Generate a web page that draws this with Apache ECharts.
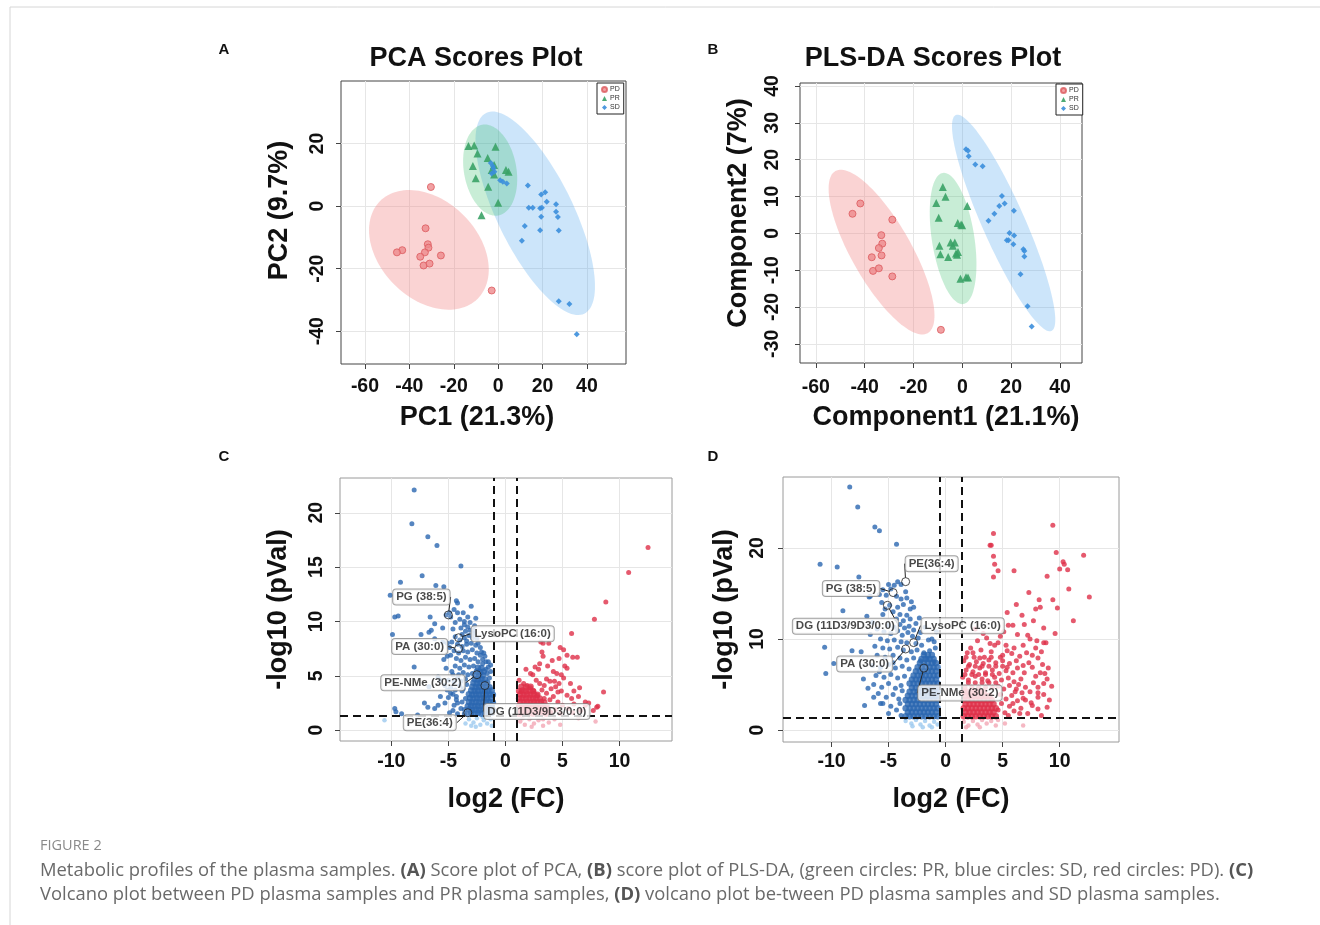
<!DOCTYPE html>
<html><head><meta charset="utf-8">
<script src="https://cdn.jsdelivr.net/npm/echarts@6/dist/echarts.min.js"></script>
<style>html,body{margin:0;padding:0;background:#fff}#c{width:1320px;height:925px}</style>
</head><body><div id="c"></div>
<script>
// ---------------- Panel A: PCA scores ----------------
const pcaPD = [[-30.3,6.1],[-32.7,-7.1],[-31.7,-12.2],[-31.4,-13.3],[-33.0,-14.8],[-35.1,-16.2],[-25.8,-15.8],[-43.2,-14.1],[-45.6,-14.8],[-33.6,-19.0],[-30.9,-18.4],[-2.9,-27.0]];
const pcaPR = [[-13.4,19.2],[-10.8,19.4],[-1.2,19.0],[-9.3,16.8],[-4.7,15.4],[-11.4,12.8],[-1.8,13.1],[3.5,11.5],[4.7,11.0],[-2.9,11.5],[-10.1,8.9],[-4.5,6.2],[0.0,1.1],[-7.5,-2.9],[-1.8,10.1]];
const pcaSD = [[-3.3,13.8],[-2.4,12.8],[-2.1,12.0],[-2.9,10.4],[-1.7,11.0],[0.9,8.3],[2.1,7.8],[3.9,7.2],[13.4,6.6],[19.4,3.7],[21.2,4.4],[21.9,1.4],[26.1,0.6],[13.8,-0.5],[15.6,-0.5],[18.9,-0.7],[19.7,-0.5],[26.1,-1.8],[26.9,-3.5],[19.4,-3.4],[12.0,-6.4],[18.9,-7.7],[27.3,-7.8],[10.7,-11.1],[27.3,-30.4],[32.1,-31.3],[35.4,-41.0]];
// ellipse rows: centre x, centre y, major-axis tip x, major-axis tip y, minor/major ratio  (order: PD, SD, PR)
const pcaEllipses = [[-31.2,-14,-9.2,-29.6,0.71],[16.7,-2.3,-5.4,29.8,0.34],[-3.6,11.5,-7.2,26,0.57]];
const pcaXTicks = [-60,-40,-20,0,20,40];
const pcaYTicks = [-40,-20,0,20];

// ---------------- Panel B: PLS-DA scores ----------------
const plsPD = [[-45.0,5.3],[-41.8,8.1],[-28.7,3.7],[-33.2,-0.5],[-32.8,-2.8],[-34.2,-4.0],[-37.1,-6.5],[-33.1,-6.0],[-36.6,-10.2],[-34.2,-9.5],[-28.7,-11.7],[-8.8,-26.2]];
const plsPR = [[-8.0,12.6],[-6.9,9.9],[-10.7,8.2],[2.0,7.4],[-9.7,4.2],[-1.9,2.8],[-0.5,2.4],[-0.1,2.2],[-4.8,-2.5],[-3.1,-2.5],[-3.9,-3.4],[-9.4,-3.4],[-9.0,-5.7],[-5.8,-6.4],[-2.6,-5.5],[-1.8,-5.1],[-2.2,-5.8],[-0.8,-12.3],[1.5,-11.9],[2.3,-12.0]];
const plsSD = [[1.5,22.8],[2.3,22.4],[2.6,20.9],[5.3,18.7],[8.3,18.2],[16.2,10.1],[15.1,7.4],[17.3,8.1],[13.1,5.3],[21.1,6.1],[10.7,3.4],[19.3,0.1],[21.2,-0.6],[18.2,-1.9],[18.9,-1.9],[20.9,-3.0],[25.0,-4.3],[25.4,-4.8],[25.4,-6.3],[23.8,-11.1],[26.7,-19.8],[28.4,-25.3]];
const plsEllipses = [[-33.1,-5.1,-52,16.9,0.32],[16.9,2.8,-2.7,32.1,0.18],[-3.8,-1.4,-8.0,16.4,0.32]];
const plsXTicks = [-60,-40,-20,0,20,40];
const plsYTicks = [-30,-20,-10,0,10,20,30,40];

// ---------------- Panel C: volcano PD vs PR ----------------
const volCBlueCore = [
[-3.3,1.5],[-3.0,1.6],[-2.7,1.5],[-2.4,1.6],[-2.1,1.5],[-1.8,1.6],[-1.5,1.5],[-1.2,1.6],
[-3.2,1.9],[-2.9,1.85],[-2.6,1.9],[-2.3,1.85],[-2.0,1.9],[-1.7,1.85],[-1.4,1.9],[-1.1,1.85],
[-3.3,2.2],[-3.0,2.25],[-2.7,2.2],[-2.4,2.25],[-2.1,2.2],[-1.8,2.25],[-1.5,2.2],[-1.2,2.25],
[-3.2,2.6],[-2.9,2.55],[-2.6,2.6],[-2.3,2.55],[-2.0,2.6],[-1.7,2.55],[-1.4,2.6],[-1.1,2.55],
[-3.1,2.95],[-2.8,2.9],[-2.5,2.95],[-2.2,2.9],[-1.9,2.95],[-1.6,2.9],[-1.3,2.95],
[-3.2,3.3],[-2.9,3.25],[-2.6,3.3],[-2.3,3.25],[-2.0,3.3],[-1.7,3.25],[-1.4,3.3],[-1.1,3.25],
[-3.0,3.65],[-2.7,3.6],[-2.4,3.65],[-2.1,3.6],[-1.8,3.65],[-1.5,3.6],[-1.2,3.65],
[-2.9,4.0],[-2.6,3.95],[-2.3,4.0],[-2.0,3.95],[-1.7,4.0],[-1.4,3.95],
[-2.8,4.35],[-2.5,4.3],[-2.2,4.35],[-1.9,4.3],[-1.6,4.35],
[-2.7,4.7],[-2.4,4.65],[-2.1,4.7],[-1.8,4.65],
[-2.6,5.05],[-2.3,5.0],[-2.0,5.05],[-2.5,5.4],[-2.2,5.35],[-1.9,5.4],[-2.4,5.75],[-2.1,5.7]];
const volCBlue = [
[-8.0,22.1],[-8.2,19.0],[-6.8,17.8],[-6.0,17.0],[-3.9,15.1],[-7.3,14.2],[-9.2,13.6],[-6.1,13.3],[-5.4,13.2],[-10.1,12.4],
[-4.3,11.9],[-4.2,11.7],[-4.5,11.1],[-4.9,10.8],[-5.2,10.6],[-4.8,10.4],[-4.2,10.8],[-3.0,11.4],[-9.7,10.4],[-9.4,10.5],
[-6.6,10.4],[-6.2,9.8],[-5.5,9.4],[-6.5,9.2],[-9.9,8.8],[-7.4,8.8],[-6.7,9.0],
[-3.9,9.4],[-3.6,9.7],[-3.3,9.5],[-3.5,9.1],[-3.1,9.2],[-3.8,8.8],[-4.0,10.2],[-3.6,10.0],[-3.3,10.4],[-4.4,9.9],[-2.7,9.6],[-4.6,9.3],[-2.8,9.2],
[-5.5,8.1],[-5.1,8.0],[-6.2,8.4],
[-8.0,5.8],[-5.7,3.1],[-5.9,2.3],[-7.1,2.5],[-6.8,2.1],[-6.2,2.0],[-9.7,2.0],[-9.6,1.7],[-9.1,1.5],[-7.7,1.4],
[-5.2,5.7],[-4.6,5.1],[-5.4,6.5],[-5.1,6.8],[-4.8,6.9],[-5.9,4.9],[-5.7,4.6],[-6.7,4.0],[-5.1,3.7],[-4.8,3.4],[-4.3,3.1],[-4.2,2.5],[-3.9,2.0],[-4.6,1.8],
[-1.9,7.1],[-2.0,6.5],[-1.5,5.8],[-1.6,5.2],
[-4.4,8.6],[-4.0,8.3],[-3.6,8.5],[-3.2,8.7],[-2.8,8.9],[-2.5,8.4],[-4.2,7.9],[-3.8,7.7],[-3.4,7.9],[-3.0,8.0],[-2.6,7.8],[-2.2,7.6],
[-4.5,7.3],[-4.1,7.1],[-3.7,7.3],[-3.3,7.2],[-2.9,7.4],[-2.5,7.1],[-2.2,6.9],[-1.8,6.8],
[-4.3,6.6],[-3.9,6.4],[-3.5,6.7],[-3.1,6.5],[-2.7,6.6],[-2.4,6.3],[-2.0,6.1],[-1.5,6.3],
[-4.4,5.9],[-4.0,5.7],[-3.6,6.0],[-3.2,5.8],[-2.8,5.9],[-1.7,5.6],[-1.3,5.4],
[-4.7,5.4],[-4.1,5.1],[-3.7,5.3],[-3.3,5.1],[-2.9,5.2],[-1.4,4.8],
[-5.0,4.6],[-4.5,4.4],[-4.2,4.8],[-3.9,4.5],[-3.5,4.7],[-3.4,4.2],
[-5.3,4.1],[-4.8,3.9],[-4.4,3.7],[-4.0,4.1],[-3.7,3.8],
[-5.0,3.0],[-4.6,3.3],[-4.3,2.8],[-3.8,3.6],[-3.8,2.6],[-4.5,2.3],[-5.3,2.5],[-4.9,1.6],[-4.2,1.5],[-3.6,1.9],[-3.5,2.9],[-3.6,1.5],
[-3.4,8.2],[-2.9,8.5],[-2.4,8.0],[-2.1,7.2],[-1.7,6.3],[-1.3,6.0],[-3.1,9.9],[-2.6,10.3],[-3.7,10.8],[-4.7,8.1],[-4.9,7.6]];
const volCBlueNs = [[-3.2,1.0],[-2.8,0.7],[-2.5,1.1],[-2.2,0.5],[-1.9,0.9],[-1.6,0.6],[-1.3,1.0],[-3.0,0.4],[-2.0,1.2],[-1.2,0.4],[-10.6,0.9],[-3.5,0.6],[-2.6,0.3],[-1.5,1.2]];
const volCRedCore = [
[1.2,1.5],[1.5,1.6],[1.8,1.5],[2.1,1.6],[2.4,1.5],[2.7,1.6],[3.0,1.5],[3.3,1.6],[3.6,1.5],[3.9,1.6],
[1.3,1.9],[1.6,1.85],[1.9,1.9],[2.2,1.85],[2.5,1.9],[2.8,1.85],[3.1,1.9],[3.4,1.85],[3.7,1.9],
[1.2,2.2],[1.5,2.25],[1.8,2.2],[2.1,2.25],[2.4,2.2],[2.7,2.25],[3.0,2.2],[3.3,2.25],[3.6,2.2],
[1.3,2.6],[1.6,2.55],[1.9,2.6],[2.2,2.55],[2.5,2.6],[2.8,2.55],[3.1,2.6],[3.4,2.55],
[1.2,2.9],[1.5,2.95],[1.8,2.9],[2.1,2.95],[2.4,2.9],[2.7,2.95],[3.0,2.9],
[1.3,3.3],[1.6,3.25],[1.9,3.3],[2.2,3.25],[2.5,3.3],[2.8,3.25],
[1.2,3.6],[1.5,3.65],[1.8,3.6],[2.1,3.65],[2.4,3.6],[1.4,4.0],[1.8,3.95],[2.2,4.0]];
const volCRed = [
[12.5,16.8],[10.8,14.5],[8.8,11.8],[7.8,10.2],[5.8,8.9],
[3.1,8.1],[3.3,8.0],[3.8,8.0],[4.8,7.6],[5.1,7.4],[3.2,7.2],[3.3,6.8],[5.4,6.9],[5.9,6.7],[6.3,6.7],[4.1,6.4],[5.2,5.9],[5.4,5.7],[2.6,5.8],[2.9,5.6],
[4.2,5.4],[4.5,5.2],[2.2,5.2],[2.4,5.1],[4.9,5.1],[5.1,4.8],[3.6,4.7],[3.9,4.5],[4.3,4.5],[6.5,3.9],[1.6,4.3],[1.9,4.1],[4.6,3.5],[4.9,3.6],
[5.4,3.2],[5.8,2.9],[6.4,3.1],[8.6,3.5],[7.0,2.6],[8.0,2.1],[7.7,1.8],[8.1,2.2],[7.0,2.3],[4.2,3.1],[3.9,2.8],
[2.7,4.6],[3.0,4.3],[3.4,4.1],[2.2,3.9],[2.5,3.6],[3.2,3.7],[3.6,3.4],[4.0,3.8],[4.4,4.0],[2.8,3.2],[3.4,2.9],[4.6,2.6],[5.0,2.3],[5.5,2.0],[6.0,2.4],[6.6,1.8],[4.4,1.9],[7.3,2.5],[5.7,4.3],[6.0,3.6],[4.7,4.3],[1.4,3.6],[1.2,4.6],[1.8,5.6],[3.0,6.1],[4.7,6.6],[3.7,5.9],[4.0,1.6],[4.8,1.5],[5.9,1.6]];
const volCRedNs = [[1.3,0.8],[1.7,0.5],[2.1,1.0],[2.5,0.6],[2.9,0.9],[3.3,0.4],[1.5,1.1],[2.3,0.3],[4.3,1.0],[4.8,0.5],[6.4,1.1],[7.9,0.8],[3.8,0.7],[3.3,1.0]];
const volCNoteNames = ['PG (38:5)','LysoPC (16:0)','PA (30:0)','PE-NMe (30:2)','DG (11D3/9D3/0:0)','PE(36:4)'];
const volCNoteValues = [[-5.0,10.6],[-4.1,8.5],[-4.1,7.5],[-2.5,5.1],[-1.8,4.1],[-3.3,1.6]];
const volCFcCut = [-1, 1];
const volCPCut = 1.3;
const volXTicks = [-10,-5,0,5,10];
const volCYTicks = [0,5,10,15,20];

// ---------------- Panel D: volcano PD vs SD ----------------
const volDBlueCore = [
[-3.5,1.5],[-3.15,1.5],[-2.8,1.5],[-2.45,1.5],[-2.1,1.5],[-1.75,1.5],[-1.4,1.5],[-1.05,1.5],[-0.7,1.5],
[-3.3,1.95],[-2.95,1.95],[-2.6,1.95],[-2.25,1.95],[-1.9,1.95],[-1.55,1.95],[-1.2,1.95],[-0.85,1.95],
[-3.5,2.4],[-3.15,2.4],[-2.8,2.4],[-2.45,2.4],[-2.1,2.4],[-1.75,2.4],[-1.4,2.4],[-1.05,2.4],[-0.7,2.4],
[-3.3,2.85],[-2.95,2.85],[-2.6,2.85],[-2.25,2.85],[-1.9,2.85],[-1.55,2.85],[-1.2,2.85],[-0.85,2.85],
[-3.5,3.3],[-3.15,3.3],[-2.8,3.3],[-2.45,3.3],[-2.1,3.3],[-1.75,3.3],[-1.4,3.3],[-1.05,3.3],[-0.7,3.3],
[-3.3,3.75],[-2.95,3.75],[-2.6,3.75],[-2.25,3.75],[-1.9,3.75],[-1.55,3.75],[-1.2,3.75],[-0.85,3.75],
[-3.15,4.2],[-2.8,4.2],[-2.45,4.2],[-2.1,4.2],[-1.75,4.2],[-1.4,4.2],[-1.05,4.2],[-0.7,4.2],
[-2.95,4.65],[-2.6,4.65],[-2.25,4.65],[-1.9,4.65],[-1.55,4.65],[-1.2,4.65],[-0.85,4.65],
[-3.15,5.1],[-2.8,5.1],[-2.45,5.1],[-2.1,5.1],[-1.75,5.1],[-1.4,5.1],[-1.05,5.1],[-0.7,5.1],
[-2.95,5.55],[-2.6,5.55],[-2.25,5.55],[-1.9,5.55],[-1.55,5.55],[-1.2,5.55],[-0.85,5.55],
[-2.8,6.0],[-2.45,6.0],[-2.1,6.0],[-1.75,6.0],[-1.4,6.0],[-1.05,6.0],[-0.7,6.0],
[-2.6,6.45],[-2.25,6.45],[-1.9,6.45],[-1.55,6.45],[-1.2,6.45],[-0.85,6.45],
[-2.45,6.9],[-2.1,6.9],[-1.75,6.9],[-1.4,6.9],[-1.05,6.9],[-0.7,6.9],
[-2.25,7.35],[-1.9,7.35],[-1.55,7.35],[-1.2,7.35],[-0.85,7.35],
[-2.1,7.8],[-1.75,7.8],[-1.4,7.8],[-1.05,7.8],[-1.9,8.25],[-1.55,8.25],[-1.2,8.25]];
const volDBlue = [
[-8.4,26.7],[-7.7,24.5],[-6.2,22.3],[-5.8,21.9],[-4.3,20.4],[-11.0,18.2],[-9.5,17.9],[-7.6,16.8],[-6.7,14.6],[-9.0,13.1],[-10.6,9.1],[-8.2,8.7],[-7.4,8.6],[-10.5,6.2],[-7.1,2.7],[-5.7,2.9],[-9.8,7.3],
[-5.0,16.0],[-4.2,16.3],[-3.9,16.0],[-5.5,15.4],[-4.8,15.5],[-5.8,14.9],[-5.2,14.8],[-4.3,14.7],[-3.9,14.4],[-3.4,14.5],[-3.0,14.1],[-6.6,14.7],
[-5.6,14.0],[-4.9,13.7],[-4.2,13.5],[-3.7,13.8],[-3.1,13.3],[-2.8,13.5],[-4.6,13.0],[-4.0,12.7],[-3.4,12.6],[-3.1,12.2],[-3.7,12.0],[-4.3,12.2],[-5.5,12.7],[-6.4,11.8],[-6.6,10.5],
[-5.0,11.5],[-4.5,11.3],[-4.0,11.6],[-3.6,11.2],[-3.2,11.4],[-2.8,11.0],[-5.4,10.8],[-4.8,10.6],[-4.2,10.9],[-3.8,10.4],[-3.3,10.7],[-2.9,10.3],[-2.4,10.1],
[-5.7,10.0],[-5.1,9.8],[-4.5,9.9],[-3.9,9.7],[-3.4,9.6],[-2.6,9.5],[-2.1,9.3],[-6.2,9.2],[-5.5,9.0],[-4.9,8.9],[-4.2,9.1],[-3.7,8.8],[-3.0,8.6],[-2.5,8.8],[-1.9,8.5],[-1.4,8.7],
[-6.0,8.2],[-5.3,8.0],[-4.6,8.2],[-4.0,7.9],[-3.4,7.7],[-2.8,7.9],[-2.2,7.6],[-1.6,7.8],[-1.0,7.5],
[-6.4,7.1],[-5.7,6.9],[-5.0,7.2],[-4.4,6.8],[-3.8,7.0],[-3.2,6.7],
[-6.1,6.0],[-5.4,5.8],[-4.8,6.1],[-4.2,5.7],[-3.6,5.9],
[-6.3,5.0],[-5.6,4.7],[-5.0,5.1],[-4.4,4.6],[-3.9,4.9],
[-5.9,4.0],[-5.2,3.6],[-4.6,3.9],[-4.1,3.4],[-5.5,2.9],[-4.8,2.6],[-4.3,2.2],[-5.0,1.8],[-6.3,3.6],[-6.8,4.6],[-7.2,5.6],[-3.9,1.6],[-1.0,9.7],[-0.8,10.8],[-1.2,10.0],[-0.9,9.0],[-4.0,2.9],[-3.8,4.3],
[-2.3,12.3],[-2.6,11.7],[-1.8,11.3],[-1.5,9.9],[-2.2,10.7],[-3.5,15.2],[-4.5,15.9],[-5.3,13.3],[-6.9,12.5],[-6.0,11.1],[-5.8,6.4],[-4.6,7.4]];
const volDBlueNs = [[-3.5,1.0],[-3.0,0.7],[-2.6,1.1],[-2.2,0.6],[-1.8,1.0],[-1.4,0.5],[-1.0,0.9],[-0.7,0.6],[-2.9,0.4],[-2.0,0.3],[-1.2,0.3]];
const volDRedCore = [
[1.6,1.5],[1.95,1.5],[2.3,1.5],[2.65,1.5],[3.0,1.5],[3.35,1.5],[3.7,1.5],[4.05,1.5],[4.4,1.5],
[1.75,1.95],[2.1,1.95],[2.45,1.95],[2.8,1.95],[3.15,1.95],[3.5,1.95],[3.85,1.95],[4.2,1.95],
[1.6,2.4],[1.95,2.4],[2.3,2.4],[2.65,2.4],[3.0,2.4],[3.35,2.4],[3.7,2.4],[4.05,2.4],[4.4,2.4],
[1.75,2.85],[2.1,2.85],[2.45,2.85],[2.8,2.85],[3.15,2.85],[3.5,2.85],[3.85,2.85],[4.2,2.85],
[1.6,3.3],[1.95,3.3],[2.3,3.3],[2.65,3.3],[3.0,3.3],[3.35,3.3],[3.7,3.3],[4.05,3.3],
[1.75,3.75],[2.1,3.75],[2.45,3.75],[2.8,3.75],[3.15,3.75],[3.5,3.75],[3.85,3.75],
[1.6,4.2],[1.95,4.2],[2.3,4.2],[2.65,4.2],[3.0,4.2],[3.35,4.2]];
const volDRed = [
[4.2,21.6],[3.9,20.3],[4.0,20.3],[4.2,19.1],[4.3,18.2],[4.6,17.5],[4.2,16.8],[6.0,17.5],[9.4,22.5],[9.7,19.5],[10.3,18.5],[10.4,18.2],[10.0,17.7],[10.7,17.6],[8.9,16.9],[12.1,19.2],[12.6,14.6],[6.2,13.8],[8.2,14.3],[8.3,13.5],[7.9,13.3],[9.4,14.3],[9.8,13.4],[5.4,12.9],[6.7,12.6],[5.5,11.5],[5.9,11.5],
[5.1,10.8],[6.3,10.5],[7.2,10.4],[7.4,10.0],[8.0,9.8],[8.6,9.6],[8.8,9.6],[3.6,10.1],[3.9,9.5],[4.3,9.3],[4.6,9.6],[1.9,8.5],[2.4,8.5],[3.0,7.9],[5.4,8.7],[5.8,8.4],[6.5,8.1],[7.1,8.5],[7.6,8.2],[8.1,7.9],[6.8,7.1],[7.6,6.9],[8.3,6.3],[8.7,6.2],[7.7,5.2],[8.6,5.1],[7.0,4.7],[8.1,4.7],[8.1,4.1],[8.1,3.6],[7.6,2.7],[8.1,2.3],[8.9,2.5],[6.5,1.8],[5.5,1.6],[6.2,4.5],[6.7,4.1],
[1.6,7.6],[2.1,7.2],[2.7,7.5],[3.3,7.3],[3.8,7.7],[4.4,7.4],[5.0,7.6],[5.6,7.3],
[1.8,6.6],[2.4,6.4],[3.0,6.8],[3.5,6.3],[4.1,6.6],[4.7,6.2],[5.3,6.5],[5.9,6.3],[6.3,6.8],
[1.5,5.8],[2.0,5.5],[2.6,5.9],[3.2,5.6],[3.7,5.4],[4.3,5.8],[4.9,5.5],[5.5,5.7],[6.0,5.3],[6.6,5.6],
[4.6,4.8],[5.1,4.5],[5.6,4.9],[6.1,4.2],[4.8,3.9],[5.3,3.4],[5.8,3.8],[6.3,3.2],[4.9,2.9],[5.6,2.6],[6.0,2.1],[4.6,2.2],[7.0,3.3],[5.2,1.9],
[1.7,4.7],[2.3,4.7],[2.9,4.7],[3.5,4.7],[4.1,4.7],[2.0,5.2],[2.6,5.2],[3.2,5.2],[3.8,5.2],[4.4,5.2],[1.7,6.1],[2.3,6.1],[2.9,6.1],[3.5,6.1],[4.1,6.1],[2.0,7.0],[2.6,7.0],[3.2,7.0],[3.8,7.0],[4.4,7.0],[5.0,7.0],[1.8,8.0],[2.5,8.0],[3.4,8.0],[4.0,8.0],[4.8,8.0],
[5.3,9.3],[6.0,9.0],[6.8,9.3],[7.9,9.0],[8.4,8.6],[5.0,8.2],[6.2,7.6],[7.3,7.4],[8.5,7.2],[9.0,6.8],[5.4,6.9],[6.9,6.3],[7.9,5.9],[8.9,5.6],[6.4,5.0],[7.4,4.2],[8.6,3.9],[6.8,3.5],[7.5,3.0],[5.9,2.9],[6.6,2.4],[7.2,1.8],[8.4,1.6],[9.1,3.3],[9.3,4.8],
[2.2,9.0],[3.1,8.8],[4.0,8.6],[2.8,9.8],[3.3,10.6],[4.8,10.3],[2.6,11.1],[6.9,11.6],[7.7,12.0],[8.6,11.2],[9.6,10.6],[11.2,12.0],[10.8,15.5],[7.3,15.1]];
const volDRedNs = [[1.6,0.9],[2.0,0.5],[2.4,1.0],[2.8,0.6],[3.2,1.1],[3.6,0.7],[4.0,1.0],[4.4,0.5],[5.2,0.7],[6.8,0.5],[1.8,0.3],[3.0,0.3],[4.6,1.1]];
const volDNoteNames = ['PE(36:4)','PG (38:5)','DG (11D3/9D3/0:0)','LysoPC (16:0)','PA (30:0)','PE-NMe (30:2)'];
const volDNoteValues = [[-3.5,16.3],[-4.6,15.1],[-5.1,13.7],[-2.8,9.6],[-3.5,8.9],[-1.9,6.8]];
const volDFcCut = [-0.55, 1.45];
const volDPCut = 1.3;
const volDYTicks = [0,10,20];

// ---------------- layout / style (not data) ----------------
const FONT = '"Liberation Sans", Arial, sans-serif';
const CAP = '"Open Sans", sans-serif';
const cNoteShift = [[-27,-18],[54,-4],[-39,-2],[-54,8],[52,26],[-38,10]];
const dNoteShift = [[26,-18],[-42,-4],[-42,21],[49,-17],[-41,15],[36,25]];
const groupFill = {PD:'rgba(240,128,128,0.35)', PR:'rgba(51,187,102,0.27)', SD:'rgba(85,170,238,0.30)'};

function axisCommon(ticks, margin, rotate) {
  return {
    axisLine: {show: false, onZero: false},
    axisTick: {show: true, inside: false, length: 5, customValues: ticks, lineStyle: {color: '#444'}},
    axisLabel: {customValues: ticks, margin: margin, rotate: rotate || 0, fontFamily: FONT, fontSize: 19.5, fontWeight: 'bold', color: '#111'},
    splitLine: {show: true, lineStyle: {color: '#e6e6e6', width: 1}}
  };
}
function xAx(gi, min, max, ticks, name, gap, margin, pad) {
  return Object.assign({type: 'value', gridIndex: gi, min, max, position: 'bottom', name, nameLocation: 'middle', nameGap: gap, nameMoveOverlap: false,
    nameTextStyle: {fontFamily: FONT, fontSize: 27, fontWeight: 'bold', color: '#111', padding: pad || 0}}, axisCommon(ticks, margin, 0));
}
function yAx(gi, min, max, ticks, name, gap, margin, pad) {
  return Object.assign({type: 'value', gridIndex: gi, min, max, position: 'left', name, nameLocation: 'middle', nameGap: gap, nameMoveOverlap: false,
    nameTextStyle: {fontFamily: FONT, fontSize: 27, fontWeight: 'bold', color: '#111', padding: pad || 0}}, axisCommon(ticks, margin, 90));
}
function ellipseSeries(gi, rows, groups) {
  return {
    type: 'custom', xAxisIndex: gi, yAxisIndex: gi, data: rows, silent: true, z: 1, clip: true,
    renderItem: function (params, api) {
      const c = api.coord([api.value(0), api.value(1)]);
      const t = api.coord([api.value(2), api.value(3)]);
      const r = api.value(4);
      const ux = t[0] - c[0], uy = t[1] - c[1];
      const pts = [];
      for (let i = 0; i < 120; i++) {
        const th = i / 120 * 2 * Math.PI, ca = Math.cos(th), sa = Math.sin(th);
        pts.push([c[0] + ux * ca - uy * r * sa, c[1] + uy * ca + ux * r * sa]);
      }
      return {type: 'polygon', shape: {points: pts}, style: {fill: groupFill[groups[params.dataIndex]], stroke: null}};
    }
  };
}
function scoreSeries(gi, pd, pr, sd) {
  return [
    {type: 'scatter', name: 'PD', xAxisIndex: gi, yAxisIndex: gi, data: pd, symbol: 'circle', symbolSize: 7, z: 3,
      itemStyle: {color: '#ee8a8c', borderColor: '#dc5a5e', borderWidth: 1}},
    {type: 'scatter', name: 'PR', xAxisIndex: gi, yAxisIndex: gi, data: pr, symbol: 'triangle', symbolSize: 8, z: 3,
      itemStyle: {color: '#3aa266', opacity: 0.9}},
    {type: 'scatter', name: 'SD', xAxisIndex: gi, yAxisIndex: gi, data: sd, symbol: 'diamond', symbolSize: 6, z: 3,
      itemStyle: {color: '#3b8edb', opacity: 0.9}}
  ];
}
function pts(gi, data, color, size, z) {
  return {type: 'scatter', xAxisIndex: gi, yAxisIndex: gi, data, symbol: 'circle', symbolSize: size, z: z || 3,
    itemStyle: {color: color, borderWidth: 0}, silent: true};
}
function noteSeries(gi, names, values, shift) {
  return {
    type: 'scatter', xAxisIndex: gi, yAxisIndex: gi, z: 10,
    data: names.map((n, i) => ({name: n, value: values[i]})),
    symbol: 'circle', symbolSize: 8,
    itemStyle: {color: 'rgba(255,255,255,0.15)', borderColor: '#222', borderWidth: 1},
    label: {show: true, position: 'inside', formatter: p => p.name, fontFamily: FONT, fontSize: 11.5, fontWeight: 'bold', color: '#1a1a1a',
      backgroundColor: '#fff', borderColor: '#8a8a8a', borderWidth: 1, borderRadius: 3, padding: [2, 3, 1, 3]},
    labelLine: {show: true, lineStyle: {color: '#222', width: 1}},
    labelLayout: p => ({dx: shift[p.dataIndex][0], dy: shift[p.dataIndex][1]})
  };
}
function cutLines(gi, fc, p) {
  return {type: 'scatter', xAxisIndex: gi, yAxisIndex: gi, data: [], z: 8,
    markLine: {silent: true, symbol: 'none', animation: false, label: {show: false},
      lineStyle: {type: [8, 5], color: '#111', width: 2},
      data: [{xAxis: fc[0]}, {xAxis: fc[1]}, {yAxis: p}]}};
}
function legendBox(left, top) {
  return {data: ['PD', 'PR', 'SD'], left: left, top: top, orient: 'vertical', itemWidth: 5, itemHeight: 5, itemGap: 2, padding: [3, 4, 3, 4],
    textStyle: {fontSize: 7, color: '#333', fontFamily: FONT, padding: [0, 0, 0, -2]}, borderColor: '#222', borderWidth: 1, backgroundColor: '#fff', selectedMode: false};
}
function txt(x, y, text, size, align, extra) {
  return {type: 'text', x: x, y: y, style: Object.assign({text: text, fontFamily: FONT, fontSize: size, fontWeight: 'bold', fill: '#111',
    align: align, verticalAlign: 'middle', textAlign: align, textVerticalAlign: 'middle'}, extra || {})};
}

const gridBase = {show: true, backgroundColor: 'transparent', containLabel: false, outerBoundsMode: 'none'};
const capRich = {b: {fontFamily: CAP, fontSize: 18.4, fontWeight: 'bold', fill: '#555'}};
const option = {
  animation: false,
  backgroundColor: '#fff',
  grid: [
    Object.assign({left: 341, top: 81, width: 285, height: 283, borderColor: '#444', borderWidth: 1}, gridBase),
    Object.assign({left: 800, top: 83, width: 282, height: 280, borderColor: '#444', borderWidth: 1}, gridBase),
    Object.assign({left: 340, top: 478, width: 332, height: 263, borderColor: '#9a9a9a', borderWidth: 1}, gridBase),
    Object.assign({left: 783, top: 477, width: 336, height: 265, borderColor: '#9a9a9a', borderWidth: 1}, gridBase)
  ],
  xAxis: [
    xAx(0, -70.8, 57.6, pcaXTicks, 'PC1 (21.3%)', 40, 13, [0, 13, 0, 0]),
    xAx(1, -66.5, 49, plsXTicks, 'Component1 (21.1%)', 41, 15, [0, 0, 0, 10]),
    xAx(2, -14.5, 14.6, volXTicks, 'log2 (FC)', 45, 11),
    xAx(3, -14.25, 15.2, volXTicks, 'log2 (FC)', 44, 10)
  ],
  yAxis: [
    yAx(0, -50.5, 40, pcaYTicks, 'PC2 (9.7%)', 48, 13, [0, 0, 0, 24]),
    yAx(1, -35.2, 40.8, plsYTicks, 'Component2 (7%)', 48, 17, [0, 0, 0, 20]),
    yAx(2, -1.0, 23.2, volCYTicks, '-log10 (pVal)', 48, 13),
    yAx(3, -1.32, 27.8, volDYTicks, '-log10 (pVal)', 45, 15)
  ],
  legend: [legendBox(597, 83), legendBox(1056, 84)],
  series: [].concat(
    [ellipseSeries(0, pcaEllipses, ['PD', 'SD', 'PR'])],
    scoreSeries(0, pcaPD, pcaPR, pcaSD),
    [ellipseSeries(1, plsEllipses, ['PD', 'SD', 'PR'])],
    scoreSeries(1, plsPD, plsPR, plsSD),
    [pts(2, volCBlueNs, '#9cc9ef', 4.5), pts(2, volCRedNs, '#f2a6b4', 4.5),
     pts(2, volCBlueCore, '#2a66b0', 6.5), pts(2, volCBlue, '#2a66b0', 5),
     pts(2, volCRedCore, '#de3049', 6.5), pts(2, volCRed, '#de3049', 5),
     cutLines(2, volCFcCut, volCPCut), noteSeries(2, volCNoteNames, volCNoteValues, cNoteShift)],
    [pts(3, volDBlueNs, '#9cc9ef', 4.5), pts(3, volDRedNs, '#f2a6b4', 4.5),
     pts(3, volDBlueCore, '#2a66b0', 6.5), pts(3, volDBlue, '#2a66b0', 5),
     pts(3, volDRedCore, '#de3049', 6.5), pts(3, volDRed, '#de3049', 5),
     cutLines(3, volDFcCut, volDPCut), noteSeries(3, volDNoteNames, volDNoteValues, dNoteShift)]
  ),
  graphic: [
    {type: 'rect', silent: true, z: 0, shape: {x: 10, y: 7, width: 1340, height: 940}, style: {fill: 'none', stroke: '#d6d6d6', lineWidth: 1}},
    txt(224, 50, 'A', 15, 'center'),
    txt(713, 50, 'B', 15, 'center'),
    txt(224, 457, 'C', 15, 'center'),
    txt(713, 457, 'D', 15, 'center'),
    txt(476, 59, 'PCA Scores Plot', 27, 'center'),
    txt(933, 59, 'PLS-DA Scores Plot', 27, 'center'),
    txt(40, 846, 'FIGURE 2', 14.5, 'left', {fontFamily: CAP, fontWeight: 'normal', fill: '#8a8a8a'}),
    txt(40, 871, 'Metabolic profiles of the plasma samples. {b|(A)} Score plot of PCA, {b|(B)} score plot of PLS-DA, (green circles: PR, blue circles: SD, red circles: PD). {b|(C)}',
      18.4, 'left', {fontFamily: CAP, fontWeight: 'normal', fill: '#6a6a6a', rich: capRich}),
    txt(40, 895, 'Volcano plot between PD plasma samples and PR plasma samples, {b|(D)} volcano plot be-tween PD plasma samples and SD plasma samples.',
      18.4, 'left', {fontFamily: CAP, fontWeight: 'normal', fill: '#6a6a6a', rich: capRich})
  ]
};
const chart = echarts.init(document.getElementById('c'), null, {renderer: 'canvas'});
chart.setOption(option);
</script></body></html>
